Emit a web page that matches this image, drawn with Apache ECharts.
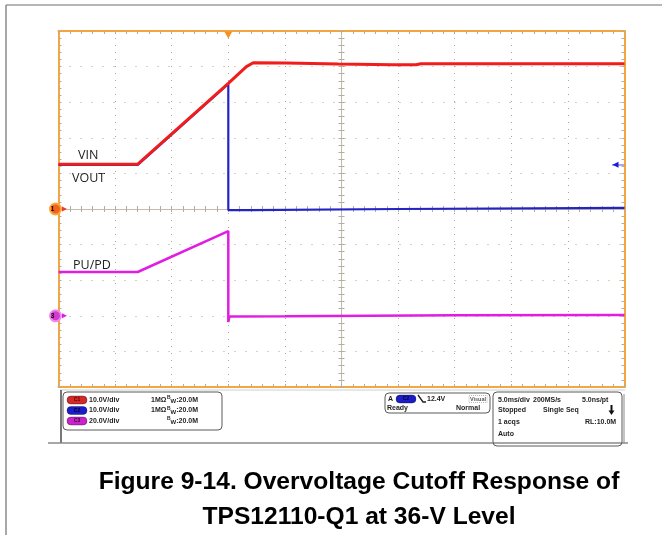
<!DOCTYPE html>
<html>
<head>
<meta charset="utf-8">
<script src="https://cdn.jsdelivr.net/npm/echarts@6/dist/echarts.min.js"></script>
<style>
  html, body { margin: 0; padding: 0; background: #ffffff; }
  #chart { width: 662px; height: 535px; }
</style>
</head>
<body>
<div id="chart"></div>
<script>
// Time base: 5 ms/div, 10 divisions (ms from left edge of the screen)
const timeTicksMs = [0, 5, 10, 15, 20, 25, 30, 35, 40, 45, 50];

// C1 – VIN (10 V/div)
const vinTime = [0, 7.0, 15.0, 16.6, 17.2, 20.1, 24.7, 29.5, 31.6, 32.0, 50];
const vinVolt = [12.6, 12.6, 35.3, 40.0, 41.1, 41.0, 40.7, 40.5, 40.5, 40.8, 40.8];

// C2 – VOUT (10 V/div)
const voutTime = [0, 7.0, 15.0, 15.0, 17.0, 30.0, 50];
const voutVolt = [12.4, 12.4, 35.1, -0.3, -0.3, 0.0, 0.3];

// C3 – PU/PD (20 V/div)
const pupdTime = [0, 7.0, 15.0, 15.0, 15.1, 20.0, 35.0, 50];
const pupdVolt = [24.6, 24.6, 47.6, -3.5, -0.4, -0.3, 0.3, 0.5];

// Trigger: C2 falling edge, 12.4 V, at 15 ms
const triggerTimeMs = 15;
const triggerLevelV = 12.4;

const zip = (t, v) => t.map((x, i) => [x, v[i]]);

const ORANGE = '#f6a63c';
const TICK = '#b4ad9f';
const DOT = '#ada595';
const CENTER = '#c3bcae';
const RED = '#f11c1c';
const BLUE = '#2424c6';
const MAGENTA = '#e21de2';
const PANEL_FONT = 'Liberation Sans, Arial, sans-serif';
const PANEL_SIZE = 7;

function frameAxis(extra) {
  return Object.assign({
    type: 'value',
    axisLine: { show: true, onZero: false, lineStyle: { color: ORANGE, width: 2 } },
    axisTick: { show: true, inside: true, length: 3, lineStyle: { color: TICK } },
    minorTick: { show: true, splitNumber: 5, length: 3, lineStyle: { color: TICK } },
    axisLabel: { show: false },
    splitLine: { show: false }
  }, extra);
}
function centerAxis(extra) {
  return Object.assign({
    type: 'value',
    axisLine: { show: true, onZero: false, lineStyle: { color: CENTER, width: 1 } },
    axisTick: { show: true, inside: true, length: 3, lineStyle: { color: TICK } },
    minorTick: { show: true, splitNumber: 5, length: 3, lineStyle: { color: TICK } },
    axisLabel: { show: false },
    splitLine: { show: false }
  }, extra);
}

const tMin = timeTicksMs[0], tMax = timeTicksMs[timeTicksMs.length - 1];
const tInt = timeTicksMs[1] - timeTicksMs[0];

// readout text helper
function txt(x, y, s, opt) {
  opt = opt || {};
  return {
    type: 'text', x: x, y: y, silent: true,
    style: Object.assign({
      text: s, fill: '#1e1e1e',
      font: 'bold ' + (opt.size || PANEL_SIZE) + 'px ' + PANEL_FONT,
      verticalAlign: 'middle', align: 'left'
    }, opt.style || {})
  };
}
function pill(x, y, color, label, textColor) {
  return [
    { type: 'rect', x: x, y: y - 4, silent: true,
      shape: { width: 20, height: 8, r: 4 },
      style: { fill: color, stroke: 'rgba(0,0,0,0.45)', lineWidth: 0.7 } },
    { type: 'text', x: x + 10, y: y, silent: true,
      style: { text: label, fill: textColor, font: 'bold 5px ' + PANEL_FONT, align: 'center', verticalAlign: 'middle' } }
  ];
}
function bwText(x, y) {
  return {
    type: 'text', x: x, y: y, silent: true,
    style: {
      text: '{s|B}{u|W}:20.0M',
      fill: '#1e1e1e',
      font: 'bold ' + PANEL_SIZE + 'px ' + PANEL_FONT,
      verticalAlign: 'middle',
      rich: {
        s: { fontSize: 5, fontWeight: 'bold', fontFamily: PANEL_FONT, padding: [0, 0, 4, 0] },
        u: { fontSize: 6, fontWeight: 'bold', fontFamily: PANEL_FONT, padding: [3, 0, 0, 0] }
      }
    }
  };
}

const rowsY = [400, 410.5, 421];
const graphics = [
  // outer figure frame
  { type: 'line', silent: true, shape: { x1: 6, y1: 5, x2: 662, y2: 5 }, style: { stroke: '#6e6e6e', lineWidth: 1.2 } },
  { type: 'line', silent: true, shape: { x1: 6, y1: 5, x2: 6, y2: 535 }, style: { stroke: '#6e6e6e', lineWidth: 1.2 } },
  // scope readout area borders
  { type: 'line', silent: true, shape: { x1: 60, y1: 390, x2: 625, y2: 390 }, style: { stroke: '#cfcfcf', lineWidth: 1 } },
  { type: 'line', silent: true, shape: { x1: 61, y1: 390, x2: 61, y2: 443 }, style: { stroke: '#4a4a4a', lineWidth: 1.5 } },
  { type: 'line', silent: true, shape: { x1: 48, y1: 443, x2: 628, y2: 443 }, style: { stroke: '#8a8a8a', lineWidth: 1.5 } },
  // channel readout box
  { type: 'rect', silent: true, shape: { x: 63, y: 392, width: 159, height: 38, r: 4 }, style: { fill: 'none', stroke: '#5a5a5a', lineWidth: 1 } },
  ...pill(67, rowsY[0], '#d42a2a', 'C1', '#5a0000'),
  txt(89, rowsY[0], '10.0V/div'),
  txt(151, rowsY[0], '1MΩ'),
  bwText(167, rowsY[0]),
  ...pill(67, rowsY[1], '#1c1cc8', 'C2', '#00003a'),
  txt(89, rowsY[1], '10.0V/div'),
  txt(151, rowsY[1], '1MΩ'),
  bwText(167, rowsY[1]),
  ...pill(67, rowsY[2], '#cc22cc', 'C3', '#3a003a'),
  txt(89, rowsY[2], '20.0V/div'),
  bwText(167, rowsY[2]),
  // trigger readout box
  { type: 'rect', silent: true, shape: { x: 385, y: 393, width: 105, height: 20, r: 4 }, style: { fill: 'none', stroke: '#5a5a5a', lineWidth: 1 } },
  txt(388, 399, 'A'),
  ...pill(396, 399, '#1c1cc8', 'C2', '#00003a'),
  { type: 'polyline', silent: true, shape: { points: [[418, 395], [423, 402], [426, 402]] }, style: { stroke: '#1e1e1e', lineWidth: 1.3, fill: 'none' } },
  txt(427, 399, '12.4V'),
  { type: 'rect', silent: true, shape: { x: 469, y: 395.5, width: 18, height: 7 }, style: { fill: 'none', stroke: '#888', lineWidth: 0.6, lineDash: [1, 1] } },
  txt(478, 399, 'Visual', { size: 5.5, style: { align: 'center', fill: '#555' } }),
  txt(387, 408.5, 'Ready'),
  txt(456, 408.5, 'Normal'),
  // acquisition readout box
  { type: 'rect', silent: true, shape: { x: 493, y: 392, width: 129, height: 54, r: 4 }, style: { fill: 'none', stroke: '#5a5a5a', lineWidth: 1 } },
  { type: 'line', silent: true, shape: { x1: 624, y1: 394, x2: 624, y2: 443 }, style: { stroke: '#8a8a8a', lineWidth: 1 } },
  txt(498, 400, '5.0ms/div'),
  txt(533, 400, '200MS/s'),
  txt(582, 400, '5.0ns/pt'),
  txt(498, 410.5, 'Stopped'),
  txt(543, 410.5, 'Single Seq'),
  { type: 'rect', silent: true, shape: { x: 610.5, y: 405, width: 2, height: 6 }, style: { fill: '#111' } },
  { type: 'polygon', silent: true, shape: { points: [[608.5, 410.5], [614.5, 410.5], [611.5, 415]] }, style: { fill: '#111' } },
  txt(498, 422, '1 acqs'),
  txt(585, 422, 'RL:10.0M'),
  txt(498, 434, 'Auto'),
  // trace labels
  { type: 'text', silent: true, x: 78, y: 155, style: { text: 'VIN', fill: '#222', font: '12.5px "Open Sans", sans-serif', verticalAlign: 'middle' } },
  { type: 'text', silent: true, x: 72, y: 178, style: { text: 'VOUT', fill: '#222', font: '12.5px "Open Sans", sans-serif', verticalAlign: 'middle' } },
  { type: 'text', silent: true, x: 73, y: 265, style: { text: 'PU/PD', fill: '#222', font: '12.5px "Open Sans", sans-serif', verticalAlign: 'middle' } },
  // caption
  { type: 'text', silent: true, x: 359, y: 482, style: { text: 'Figure 9-14. Overvoltage Cutoff Response of', fill: '#000', font: 'bold 24.6px "Liberation Sans", Arial, sans-serif', align: 'center', verticalAlign: 'middle' } },
  { type: 'text', silent: true, x: 359, y: 517, style: { text: 'TPS12110-Q1 at 36-V Level', fill: '#000', font: 'bold 24.6px "Liberation Sans", Arial, sans-serif', align: 'center', verticalAlign: 'middle' } }
];

function groundMarker(label, fill, ring, arrowColor) {
  return [
    { coord: [tMin, 0], symbol: 'circle', symbolSize: 11, symbolOffset: [-3, 0],
      itemStyle: { color: fill, borderColor: ring, borderWidth: 2 },
      label: { show: true, formatter: label, position: 'inside', color: '#300', fontSize: 7, fontWeight: 'bold', offset: [-3, 0] } },
    { coord: [tMin, 0], symbol: 'triangle', symbolRotate: -90, symbolSize: [5, 5], symbolOffset: [6, 0],
      itemStyle: { color: arrowColor }, label: { show: false } }
  ];
}

const option = {
  animation: false,
  backgroundColor: '#ffffff',
  grid: { left: 58.5, top: 31, width: 566, height: 356, containLabel: false },
  xAxis: [
    frameAxis({ min: tMin, max: tMax, interval: tInt, position: 'bottom',
      splitLine: { show: true, lineStyle: { color: DOT, type: [1, 6], width: 1 } } }),
    frameAxis({ min: tMin, max: tMax, interval: tInt, position: 'top' }),
    centerAxis({ min: tMin, max: tMax, interval: tInt, position: 'bottom', offset: -178 }),
    centerAxis({ min: tMin, max: tMax, interval: tInt, position: 'top', offset: -178 })
  ],
  yAxis: [
    frameAxis({ min: -50, max: 50, interval: 10, position: 'left',
      splitLine: { show: true, lineStyle: { color: DOT, type: [1, 10], width: 1 } } }),
    frameAxis({ min: -40, max: 160, interval: 20, position: 'right' }),
    centerAxis({ min: -50, max: 50, interval: 10, position: 'left', offset: -283 }),
    centerAxis({ min: -50, max: 50, interval: 10, position: 'right', offset: -283 })
  ],
  graphic: graphics,
  series: [
    {
      name: 'PU/PD', type: 'line', xAxisIndex: 0, yAxisIndex: 1, z: 3,
      data: zip(pupdTime, pupdVolt), symbol: 'none', silent: true,
      lineStyle: { color: MAGENTA, width: 2.5 },
      markPoint: { silent: true, data: groundMarker('3', '#d23ad2', '#ee8cee', MAGENTA) }
    },
    {
      name: 'VOUT', type: 'line', xAxisIndex: 0, yAxisIndex: 0, z: 4,
      data: zip(voutTime, voutVolt), symbol: 'none', silent: true,
      lineStyle: { color: BLUE, width: 2.2 },
      markPoint: { silent: true, data: [
        { coord: [tMax, triggerLevelV], symbol: 'triangle', symbolRotate: 90, symbolSize: [6, 6], symbolOffset: [-9, 0],
          itemStyle: { color: '#1a1ae0' }, label: { show: false } }
      ] },
      markLine: { silent: true, symbol: 'none', label: { show: false },
        lineStyle: { color: '#8c8ce6', width: 1.5, type: 'solid' },
        data: [[{ coord: [tMax - 1.1, triggerLevelV] }, { coord: [tMax, triggerLevelV] }]] }
    },
    {
      name: 'VIN', type: 'line', xAxisIndex: 0, yAxisIndex: 0, z: 5,
      data: zip(vinTime, vinVolt), symbol: 'none', silent: true,
      lineStyle: { color: RED, width: 3 },
      markPoint: { silent: true, data: [
        ...groundMarker('1', '#f0641e', '#f9a63a', '#f03a2a'),
        { coord: [triggerTimeMs, 50], symbol: 'triangle', symbolRotate: 180, symbolSize: [8, 7], symbolOffset: [0, 4],
          itemStyle: { color: '#f7901e' }, label: { show: false } }
      ] }
    }
  ]
};

const chart = echarts.init(document.getElementById('chart'), null, { renderer: 'canvas' });
chart.setOption(option);
</script>
</body>
</html>
